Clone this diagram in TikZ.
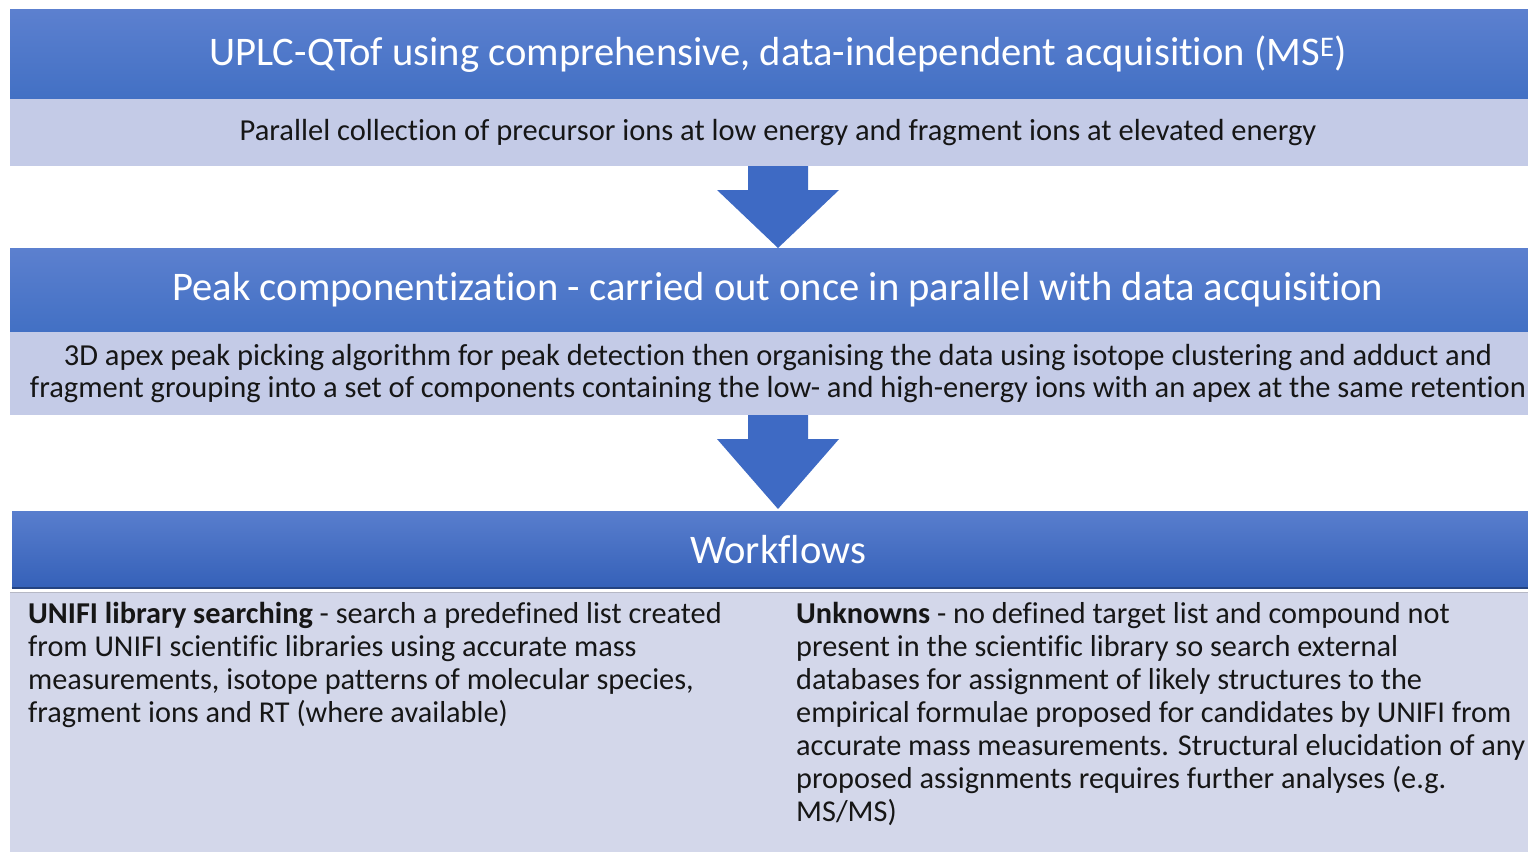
\documentclass[tikz,border=0pt]{standalone}
\usepackage{fontspec}
\setmainfont{Carlito}[Ligatures=NoCommon]
\usetikzlibrary{positioning,calc,backgrounds,shadows}
\definecolor{barblue}{RGB}{66,112,196}
\definecolor{bartop}{RGB}{92,128,207}
\definecolor{flowdark}{RGB}{52,96,184}
\definecolor{arrowblue}{RGB}{62,106,196}
\definecolor{bandgrey}{RGB}{196,203,231}
\definecolor{panelgrey}{RGB}{211,215,234}
\definecolor{inkblack}{RGB}{22,22,22}
\tikzset{header/.style={rectangle, top color=bartop, bottom color=barblue, text=white, minimum width=1536pt, outer sep=0pt, inner sep=0pt, font=\fontsize{40.6}{44}\selectfont}, band/.style={rectangle, fill=bandgrey, text=inkblack, minimum width=1536pt, outer sep=0pt, inner sep=0pt, align=center, font=\fontsize{30.5}{32}\selectfont}, coltext/.style={anchor=north west, inner sep=0pt, align=left, text=inkblack, font=\fontsize{30.3}{33}\selectfont}}
% block arrow hanging from #1 down to #2
\newcommand\blockarrow[2]{\fill[arrowblue] ($(#1.south)+(-30,0)$) -- ($(#1.south)+(-30,24)$) -- ($(#1.south)+(-61,24)$) -- (#2.north) -- ($(#1.south)+(61,24)$) -- ($(#1.south)+(30,24)$) -- ($(#1.south)+(30,0)$) -- cycle;}
\begin{document}
\begin{tikzpicture}[x=1pt,y=-1pt]
\useasboundingbox (0,0) rectangle (1528,851);
\clip (0,0) rectangle (1528,851);
\node[header, minimum height=89pt] (acq) at (778,54.5) {UPLC-QTof using comprehensive, data-independent acquisition (MS\textsuperscript{E})};
\node[band, minimum height=67pt, below=0pt of acq] (acqnote) {Parallel collection of precursor ions at low energy and fragment ions at elevated energy};
\node[header, minimum height=84pt, below=82pt of acqnote] (peak) {Peak componentization - carried out once in parallel with data acquisition};
\node[band, minimum height=83pt, below=0pt of peak] (peaknote) {3D apex peak picking algorithm for peak detection then organising the data using isotope clustering and adduct and\\fragment grouping into a set of components containing the low- and high-energy ions with an apex at the same retention};
\node[header, minimum height=81pt, below=94pt of peaknote, top color=bartop!90!barblue, bottom color=flowdark, draw=white, line width=3pt, drop shadow={shadow xshift=0pt, shadow yshift=-3pt, opacity=0.35}] (flow) {Workflows};
\begin{scope}[on background layer]
\node[band, fill=panelgrey, minimum height=262pt, below=0pt of flow] (panel) {};
\end{scope}
\draw[flowdark!70!black, line width=1.5pt] ($(flow.south west)+(1.5,-2)$) -- ($(flow.south east)+(-1.5,-2)$);
\node[coltext] (library) at (28,602) {\textbf{UNIFI library searching} - search a predefined list created\\from UNIFI scientific libraries using accurate mass\\measurements, isotope patterns of molecular species,\\fragment ions and RT (where available)};
\node[coltext] (unknowns) at (796,602) {\textbf{Unknowns} - no defined target list and compound not\\present in the scientific library so search external\\databases for assignment of likely structures to the\\empirical formulae proposed for candidates by UNIFI from\\accurate mass measurements. Structural elucidation of any\\proposed assignments requires further analyses (e.g.\\MS/MS)};
\blockarrow{acqnote}{peak}
\blockarrow{peaknote}{flow}
\end{tikzpicture}
\end{document}
